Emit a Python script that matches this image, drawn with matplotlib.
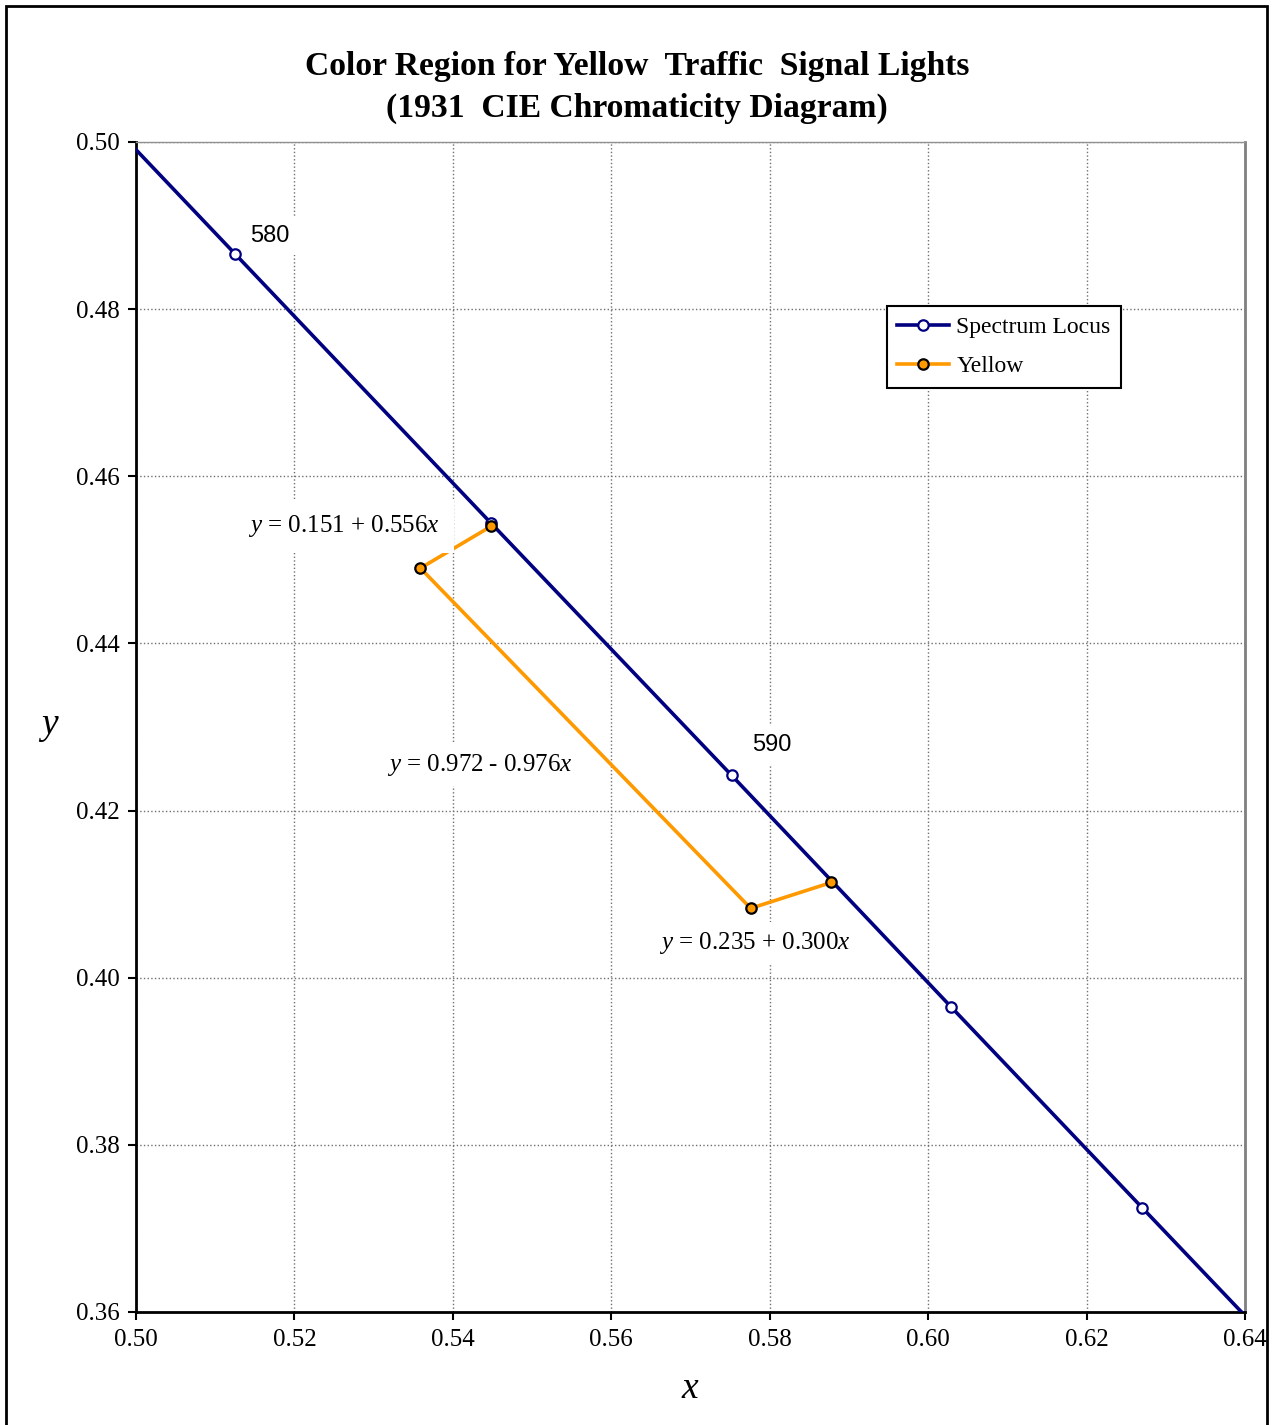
import matplotlib
matplotlib.use("Agg")
import matplotlib.pyplot as plt
from matplotlib.patches import Rectangle

plt.rcParams['font.family'] = 'Liberation Serif'
plt.rcParams['mathtext.fontset'] = 'custom'
plt.rcParams['mathtext.rm'] = 'Liberation Serif'
plt.rcParams['mathtext.it'] = 'Liberation Serif:italic'

# CIE 1931 spectrum locus, 575-605 nm every 5 nm
locus_x = [0.4788, 0.5125, 0.5448, 0.5752, 0.6029, 0.6270, 0.6482]
locus_y = [0.5202, 0.4866, 0.4544, 0.4242, 0.3965, 0.3725, 0.3514]

# yellow signal region corners
yellow_x = [0.5448, 0.5359, 0.5776, 0.5878]
yellow_y = [0.4540, 0.4490, 0.4083, 0.4114]

xticks = [0.50, 0.52, 0.54, 0.56, 0.58, 0.60, 0.62, 0.64]
yticks = [0.36, 0.38, 0.40, 0.42, 0.44, 0.46, 0.48, 0.50]

navy = '#000080'
orange = '#FF9900'

fig = plt.figure(figsize=(12.74, 14.25), dpi=100)
ax = fig.add_axes([0.1068, 0.0793, 0.8704, 0.8211])

ax.plot(locus_x, locus_y, color=navy, lw=2.6, marker='o', ms=7.5,
        mfc='white', mec=navy, mew=1.6, label='Spectrum Locus', zorder=3)
ax.plot(yellow_x, yellow_y, color=orange, lw=2.6, marker='o', ms=7.5,
        mfc=orange, mec='black', mew=1.6, label='Yellow', zorder=4)

ax.set_xlim(0.50, 0.64)
ax.set_ylim(0.36, 0.50)
ax.set_xticks(xticks)
ax.set_yticks(yticks)
ax.set_xticklabels(['%.2f' % v for v in xticks])
ax.set_yticklabels(['%.2f' % v for v in yticks])
ax.tick_params(direction='out', length=6, width=1.5, labelsize=18, pad=6)
ax.grid(True, color='#707070', ls=':', lw=1)

for s in ['left', 'bottom']:
    ax.spines[s].set_color('black')
    ax.spines[s].set_linewidth(2)
ax.spines['top'].set_color('#909090')
ax.spines['top'].set_linewidth(1)
ax.spines['right'].set_color('#808080')
ax.spines['right'].set_linewidth(2)

ax.set_xlabel('$x$', fontsize=27, labelpad=15)
ax.set_ylabel('$y$', fontsize=27, rotation=0, labelpad=19, va='center')

box = dict(facecolor='white', edgecolor='none', pad=6)
ax.text(0.5169, 0.4888, '580', family='Liberation Sans', fontsize=17,
        ha='center', va='center', bbox=box, zorder=5)
ax.text(0.5803, 0.4278, '590', family='Liberation Sans', fontsize=17,
        ha='center', va='center', bbox=box, zorder=5)
ax.text(0.5263, 0.4540, '$y$ = 0.151 + 0.556$x$', fontsize=18,
        ha='center', va='center', bbox=dict(facecolor='white', edgecolor='none', pad=10), zorder=5)
ax.text(0.5434, 0.4255, '$y$ = 0.972 - 0.976$x$', fontsize=18,
        ha='center', va='center', bbox=box, zorder=5)
ax.text(0.5781, 0.4041, '$y$ = 0.235 + 0.300$x$', fontsize=18,
        ha='center', va='center', bbox=box, zorder=5)

leg = ax.legend(loc='upper left', bbox_to_anchor=(0.677, 0.860), borderaxespad=0,
                fontsize=17, fancybox=False, framealpha=1, edgecolor='black',
                handlelength=2.2, handletextpad=0.3, borderpad=0.45, labelspacing=0.75)
leg.get_frame().set_linewidth(1.5)

fig.text(0.5, 1 - 66 / 1425, 'Color Region for Yellow  Traffic  Signal Lights',
         ha='center', va='center', fontsize=24.2, fontweight='bold')
fig.text(0.5, 1 - 108 / 1425, '(1931  CIE Chromaticity Diagram)',
         ha='center', va='center', fontsize=24.2, fontweight='bold')

fig.patches.append(Rectangle((6 / 1274, -0.01), 1261 / 1274, 1.01 - 6 / 1425,
                             transform=fig.transFigure, fill=False,
                             edgecolor='black', lw=2, zorder=10))

fig.savefig('out.png', dpi=100)
